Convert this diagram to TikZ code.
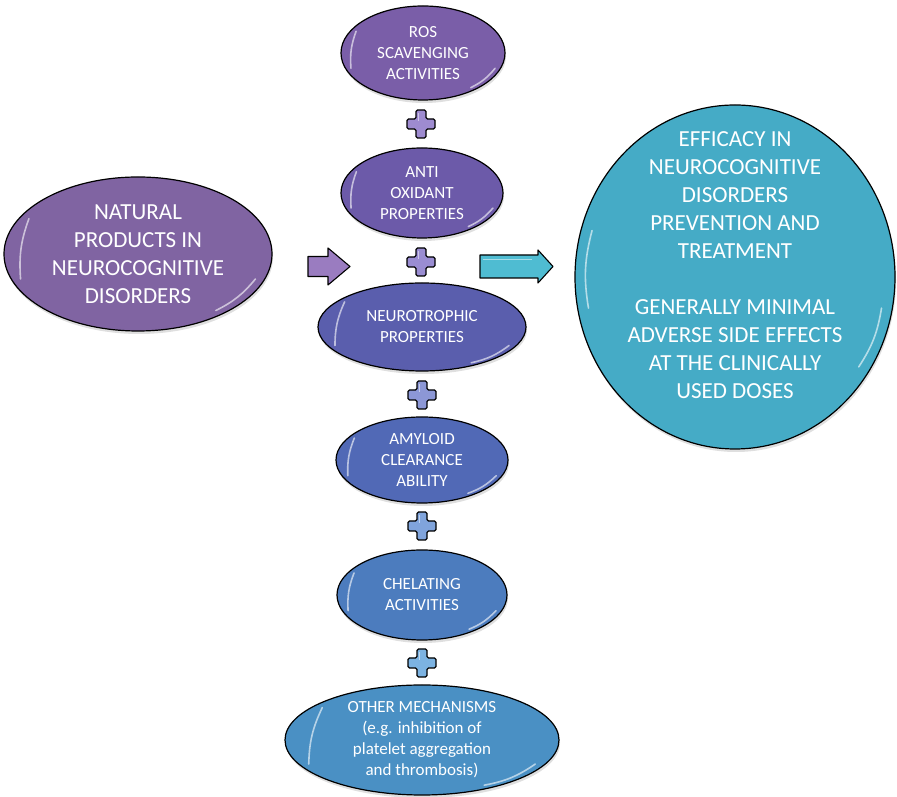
\documentclass[tikz,border=0pt]{standalone}
\usepackage{fontspec}
\setmainfont{Carlito}
\usetikzlibrary{shapes.geometric,shadows,calc}
\definecolor{cnat}{HTML}{8064A2}
\definecolor{cros}{HTML}{7A5EA8}
\definecolor{canti}{HTML}{6C5AA9}
\definecolor{cneuro}{HTML}{5A5EAD}
\definecolor{camy}{HTML}{5169B6}
\definecolor{cchel}{HTML}{4C7CBE}
\definecolor{cother}{HTML}{4A90C4}
\definecolor{ceff}{HTML}{45ABC6}
\definecolor{pA}{HTML}{9E8BD0}
\definecolor{pB}{HTML}{9A8DD2}
\definecolor{pC}{HTML}{8C97D6}
\definecolor{pD}{HTML}{80A4DC}
\definecolor{pE}{HTML}{7CB3E2}
\definecolor{apur}{HTML}{9A7CC0}
\definecolor{acyan}{HTML}{4FBCD2}
\tikzset{
  ell/.style={ellipse, draw=black, line width=1.2pt, text=white, inner sep=0pt, align=center,
    drop shadow={shadow xshift=1pt, shadow yshift=-3pt, opacity=0.25}},
  small/.style={font=\fontsize{17}{21}\selectfont},
  big/.style={font=\fontsize{23}{28}\selectfont},
  glint/.style={white, line width=1.6pt, opacity=0.6, line cap=round},
  pics/plussign/.style={code={
    \draw[fill=#1, draw=black, line width=1.1pt, rounded corners=1.5pt]
      (-5,14)--(5,14)--(5,5)--(14,5)--(14,-5)--(5,-5)--(5,-14)--(-5,-14)--(-5,-5)--(-14,-5)--(-14,5)--(-5,5)--cycle;
    \draw[white, opacity=0.5, line width=0.8pt] (-3,11)--(-3,3);
  }}
}
\newcommand{\glossy}[1]{%
  \draw[glint] ($(#1.center)!0.93!(#1.162)$) to[bend right=12] ($(#1.center)!0.93!(#1.192)$);
  \draw[glint] ($(#1.center)!0.93!(#1.-12)$) to[bend left=12] ($(#1.center)!0.93!(#1.-36)$);
}
\begin{document}
\begin{tikzpicture}[x=1pt,y=1pt]
\useasboundingbox (0,0) rectangle (897,797);
% main ellipses
\node[ell, big, fill=cnat, minimum width=268pt, minimum height=154pt] (nat) at (138,543)
  {NATURAL\\PRODUCTS IN\\NEUROCOGNITIVE\\DISORDERS};
\node[ell, small, fill=cros, minimum width=164pt, minimum height=94pt] (ros) at (423,744)
  {ROS\\SCAVENGING\\ACTIVITIES};
\node[ell, small, fill=canti, minimum width=162pt, minimum height=90pt] (anti) at (422,604)
  {ANTI\\OXIDANT\\PROPERTIES};
\node[ell, small, fill=cneuro, minimum width=208pt, minimum height=88pt] (neuro) at (422,470)
  {NEUROTROPHIC\\PROPERTIES};
\node[ell, small, fill=camy, minimum width=172pt, minimum height=86pt] (amy) at (422,337)
  {AMYLOID\\CLEARANCE\\ABILITY};
\node[ell, small, fill=cchel, minimum width=170pt, minimum height=90pt] (chel) at (422,202)
  {CHELATING\\ACTIVITIES};
\node[ell, small, fill=cother, minimum width=274pt, minimum height=110pt] (other) at (422,57)
  {OTHER MECHANISMS\\(e.g. inhibition of\\platelet aggregation\\and thrombosis)};
\node[ell, fill=ceff, minimum width=320pt, minimum height=344pt] (eff) at (735,520) {};
\node[big, text=white, align=center] (efftext) at ([yshift=12pt]eff.center)
  {EFFICACY IN\\NEUROCOGNITIVE\\DISORDERS\\PREVENTION AND\\TREATMENT\\[28pt]GENERALLY MINIMAL\\ADVERSE SIDE EFFECTS\\AT THE CLINICALLY\\USED DOSES};
\foreach \n in {nat,ros,anti,neuro,amy,chel,other,eff} {\glossy{\n}}
% plus signs
\coordinate (p1) at (421,673);
\coordinate (p2) at (421,535);
\coordinate (p3) at (422,402);
\coordinate (p4) at (422,271);
\coordinate (p5) at (422,134);
\pic at (p1) {plussign=pA};
\pic at (p2) {plussign=pB};
\pic at (p3) {plussign=pC};
\pic at (p4) {plussign=pD};
\pic at (p5) {plussign=pE};
% block arrows
\coordinate (ap) at (308,530.5);
\draw[fill=apur, draw=black, line width=1.1pt, line join=round]
  (ap) ++(0,-10) -- ++(20,0) -- ++(0,-8.5) -- ++(22,18.5) -- ++(-22,18.5) -- ++(0,-8.5) -- ++(-20,0) -- cycle;
\coordinate (ac) at (480,530.5);
\draw[fill=acyan, draw=black, line width=1.1pt, line join=round]
  (ac) ++(0,-11.5) -- ++(58,0) -- ++(0,-5) -- ++(15,16.5) -- ++(-15,16.5) -- ++(0,-5) -- ++(-58,0) -- cycle;
\draw[white, opacity=0.5, line width=0.8pt] (483,538) -- (532,538);
\end{tikzpicture}
\end{document}
